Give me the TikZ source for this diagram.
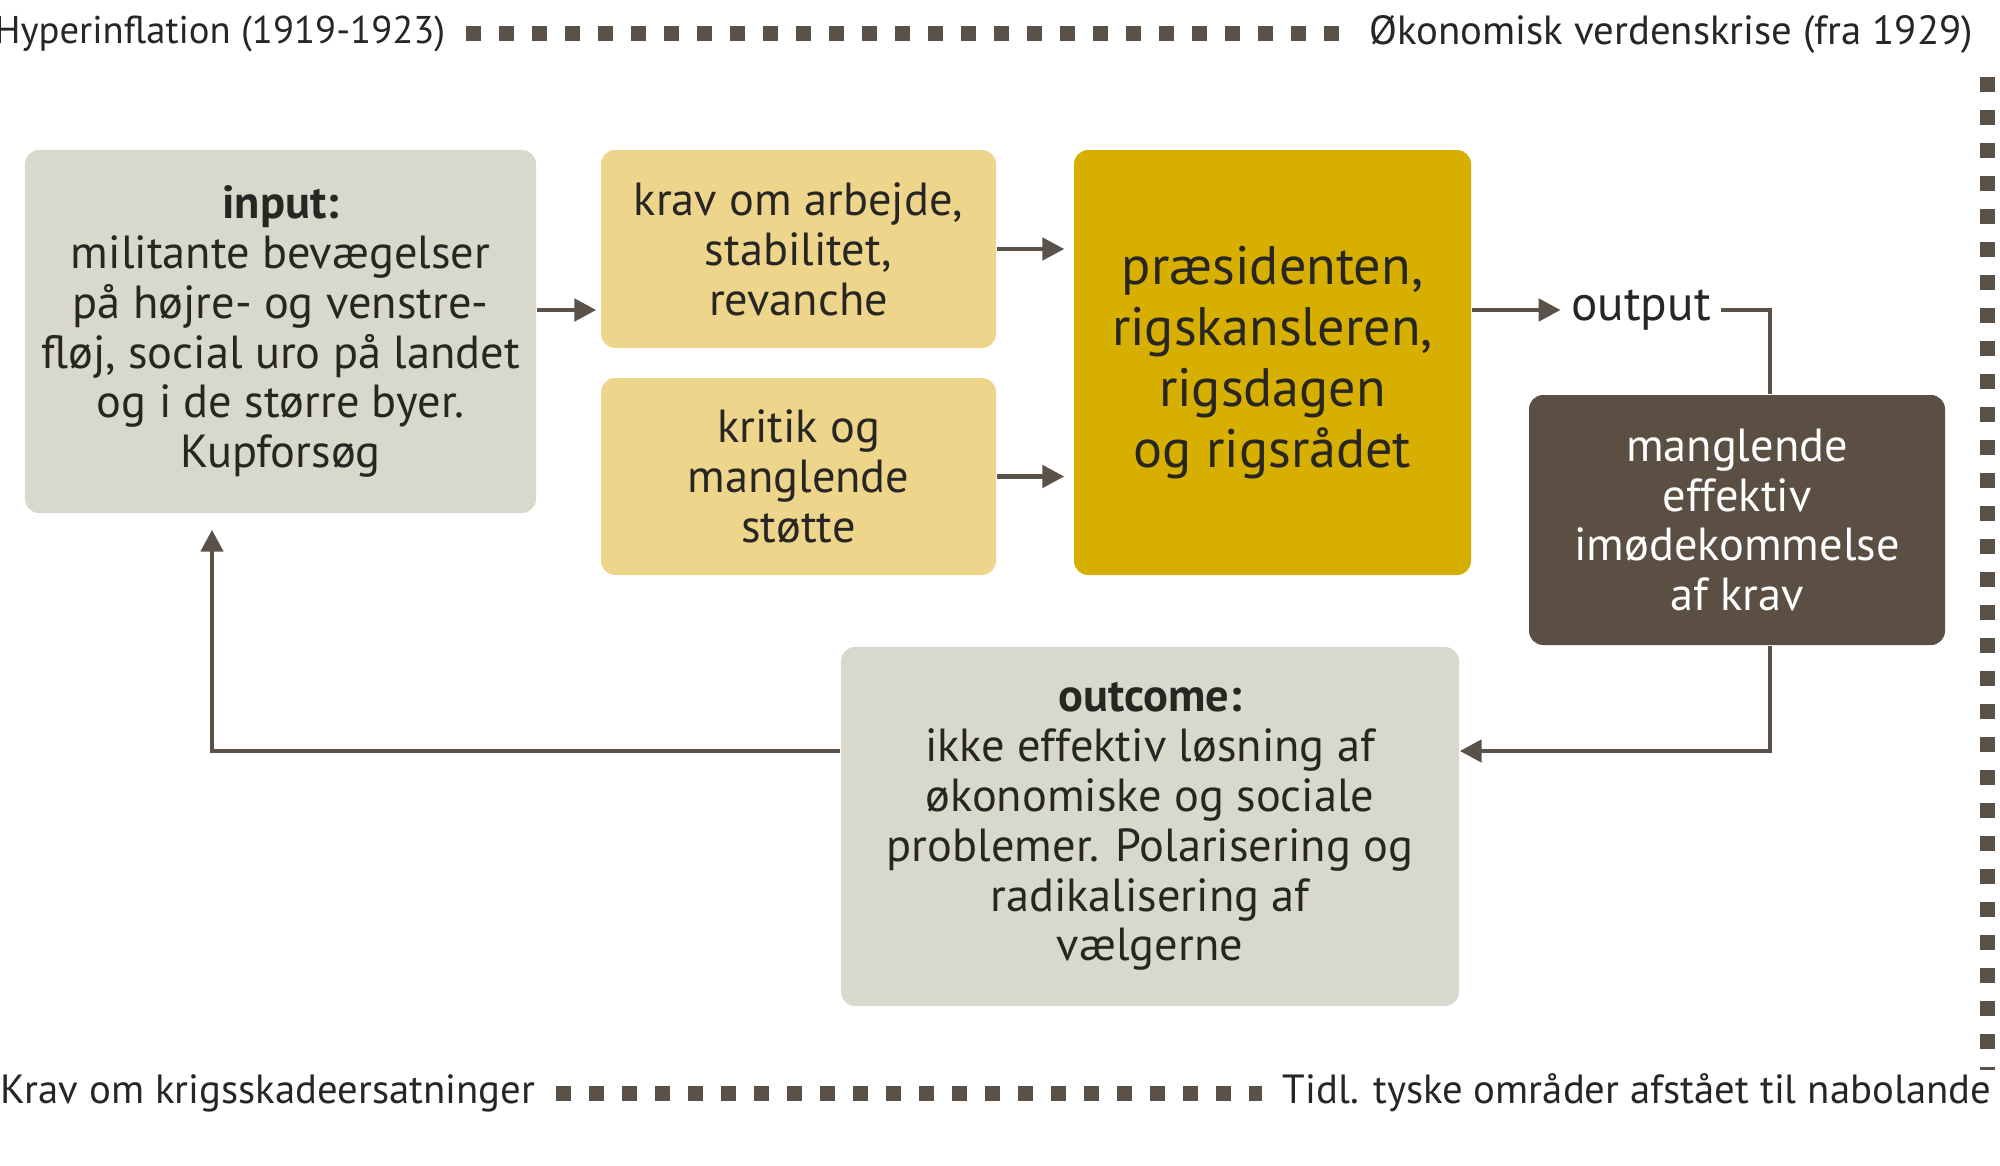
\documentclass[tikz,border=0pt]{standalone}
\usepackage{fontspec}
\setmainfont{PT Sans}
\usetikzlibrary{arrows.meta}
\definecolor{boxgrey}{RGB}{217,216,204}
\definecolor{boxsand}{RGB}{237,214,140}
\definecolor{boxgold}{RGB}{215,175,0}
\definecolor{boxbrown}{RGB}{91,79,67}
\definecolor{linebrown}{RGB}{90,81,72}
\definecolor{textdark}{RGB}{40,38,35}

\begin{document}
\begin{tikzpicture}[
  box/.style={rounded corners=4pt, align=center, text=textdark, inner sep=0pt, font=\fontsize{13.2}{14.2}\selectfont},
  flow/.style={linebrown, line width=1.4pt, -{Triangle[length=0.22cm,width=0.22cm]}},
  dotline/.style={linebrown, line width=0.15cm, dash pattern=on 0.15cm off 0.18cm},
  edgetext/.style={text=textdark, inner sep=0.2cm, font=\fontsize{11.6}{14}\selectfont}
]
\fill[white] (0,0) rectangle (20,11.65);
\useasboundingbox (0,0) rectangle (20,11.65);

% Time line round the system
\node[edgetext, anchor=east, font=\fontsize{11}{14}\selectfont] (hyper) at (4.66,11.31) {Hyperinflation (1919-1923)};
\node[edgetext, anchor=west] (okon) at (13.49,11.31) {Økonomisk verdenskrise (fra 1929)};
\node[edgetext, anchor=east] (krigs) at (5.56,0.72) {Krav om krigsskadeersatninger};
\node[edgetext, anchor=west] (tidl) at (12.62,0.72) {Tidl. tyske områder afstået til nabolande};
\coordinate (vtop) at (19.87,10.88);
\coordinate (vbot) at (19.87,0.95);
\draw[dotline] (hyper.east) -- (okon.west);
\draw[dotline] (krigs.east) -- (tidl.west);
\draw[dotline] (vtop) -- (vbot);

% Input side
\node[box, fill=boxgrey, minimum width=5.11cm, minimum height=3.63cm] (input) at (2.805,8.335)
  {\textbf{input:}\\militante bevægelser\\på højre- og venstre-\\fløj, social uro på landet\\og i de større byer.\\Kupforsøg};
\node[box, fill=boxsand, minimum width=3.95cm, minimum height=1.98cm] (krav) at (7.985,9.16)
  {krav om arbejde,\\stabilitet,\\revanche};
\node[box, fill=boxsand, minimum width=3.95cm, minimum height=1.97cm] (kritik) at (7.985,6.885)
  {kritik og\\manglende\\støtte};

% Political system
\node[box, fill=boxgold, minimum width=3.97cm, minimum height=4.25cm, font=\fontsize{15.4}{17.4}\selectfont] (praes) at (12.725,8.025)
  {præsidenten,\\rigskansleren,\\rigsdagen\\og rigsrådet};
\node[edgetext, inner sep=0.1cm, font=\fontsize{14}{16}\selectfont] (output) at (16.41,8.55) {output};
\node[box, fill=boxbrown, text=white, minimum width=4.16cm, minimum height=2.5cm] (mangl) at (17.37,6.45)
  {manglende\\effektiv\\imødekommelse\\af krav};

% Outcome
\node[box, fill=boxgrey, minimum width=6.18cm, minimum height=3.59cm] (outcome) at (11.5,3.385)
  {\textbf{outcome:}\\ikke effektiv løsning af\\økonomiske og sociale\\problemer. Polarisering og\\radikalisering af\\vælgerne};

% Arrows
\draw[flow, shorten >=0.04cm] (input.east |- output) -- (krav.west |- output);
\draw[flow, shorten >=0.09cm] (krav.east) -- (praes.west |- krav.east);
\draw[flow, shorten >=0.09cm] (kritik.east) -- (praes.west |- kritik.east);
\draw[flow] (praes.east |- output) -- (output.west);
\draw[linebrown, line width=1.4pt] (output.east) -| ([xshift=0.33cm]mangl.north);
\draw[flow] ([xshift=0.33cm]mangl.south) |- ([yshift=0.755cm]outcome.east);
\draw[flow, shorten >=0.16cm] ([yshift=0.755cm]outcome.west) -| ([xshift=-0.685cm]input.south);
\end{tikzpicture}
\end{document}
